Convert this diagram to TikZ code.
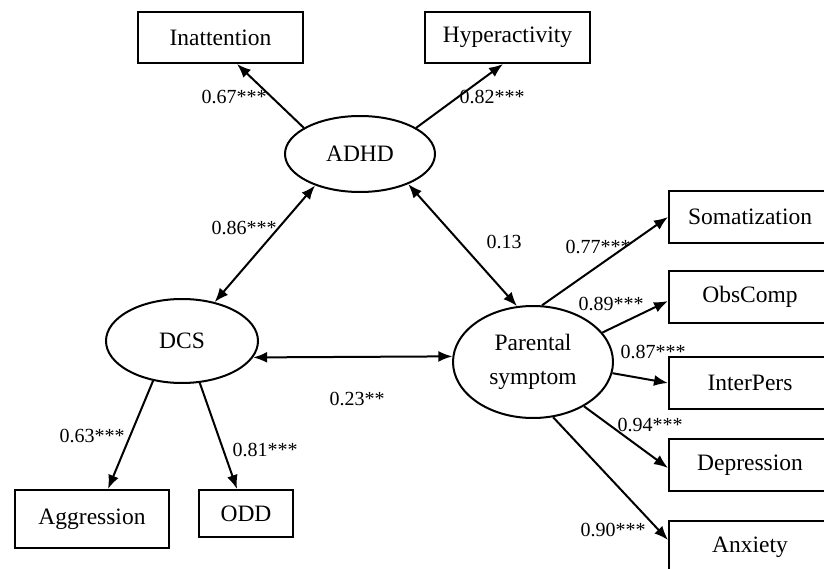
\documentclass[tikz,border=0pt]{standalone}
\usepackage{fontspec}
\setmainfont{Liberation Serif}
\usetikzlibrary{shapes.geometric,arrows.meta}
\begin{document}
\begin{tikzpicture}[x=1pt,y=-1pt,
  box/.style={draw, line width=2pt, rectangle, inner sep=0pt, font=\fontsize{23.5}{26}\selectfont},
  lat/.style={draw, ellipse, line width=2pt, inner sep=0pt, align=center, font=\fontsize{23.5}{34}\selectfont},
  lbl/.style={inner sep=0pt, font=\fontsize{20}{23}\selectfont},
  arr/.style={line width=2pt, -{Latex[length=14pt,width=11pt]}},
  darr/.style={line width=2pt, {Latex[length=14pt,width=11pt]}-{Latex[length=14pt,width=11pt]}}]
\useasboundingbox (0,0) rectangle (824,569);
\clip (0,0) rectangle (824,569);
% latent variables
\node[lat, minimum width=150pt, minimum height=76pt] (adhd) at (360,154) {ADHD};
\node[lat, minimum width=152pt, minimum height=84pt] (dcs) at (182,341) {DCS};
\node[lat, minimum width=160pt, minimum height=112pt] (par) at (533,362) {Parental\\symptom};
% indicators
\node[box, minimum width=165pt, minimum height=51pt] (inatt) at (220.5,37.5) {Inattention};
\node[box, minimum width=165pt, minimum height=51pt] (hyper) at (507.5,37.5) {Hyperactivity};
\node[box, minimum width=154pt, minimum height=58pt] (agg) at (92,519) {Aggression};
\node[box, minimum width=94pt, minimum height=47pt] (odd) at (246,513.5) {ODD};
\node[box, minimum width=162pt, minimum height=52pt] (soma) at (750,217) {Somatization};
\node[box, minimum width=162pt, minimum height=52pt] (obs) at (750,297) {ObsComp};
\node[box, minimum width=162pt, minimum height=52pt] (inter) at (750,383) {InterPers};
\node[box, minimum width=162pt, minimum height=52pt] (dep) at (750,465) {Depression};
\node[box, minimum width=162pt, minimum height=52pt] (anx) at (750,547) {Anxiety};
% connectors
\draw[arr] (adhd.155) -- ([xshift=16.5pt]inatt.south);
\draw[arr] (adhd.25) -- ([xshift=-4.5pt]hyper.south);
\draw[darr] (adhd.215) -- (dcs.50);
\draw[darr] (adhd.328) -- (par.106);
\draw[darr] (dcs.-13) -- (par.176.4);
\draw[arr] (dcs.234.5) -- ([xshift=16pt]agg.north);
\draw[arr] (dcs.293) -- ([xshift=-9pt]odd.north);
\draw[arr] (par.81) -- (soma.west);
\draw[arr] (par.23.5) -- ([yshift=-4pt]obs.west);
\draw[arr] (par.-8.5) -- (inter.west);
\draw[arr] (par.-41.4) -- ([yshift=-3pt]dep.west);
\draw[arr] (par.-70.7) -- ([yshift=7pt]anx.west);
% labels
\node[lbl] (l1) at (234,97) {0.67***};
\node[lbl] (l2) at (492,97) {0.82***};
\node[lbl] (l3) at (244,228) {0.86***};
\node[lbl] (l4) at (504,242) {0.13};
\node[lbl] (l5) at (357,399) {0.23**};
\node[lbl] (l6) at (92,436) {0.63***};
\node[lbl] (l7) at (265,450) {0.81***};
\node[lbl] (l8) at (598,247) {0.77***};
\node[lbl] (l9) at (611,304) {0.89***};
\node[lbl] (l10) at (653,352) {0.87***};
\node[lbl] (l11) at (650,425) {0.94***};
\node[lbl] (l12) at (613,530) {0.90***};
\end{tikzpicture}
\end{document}
